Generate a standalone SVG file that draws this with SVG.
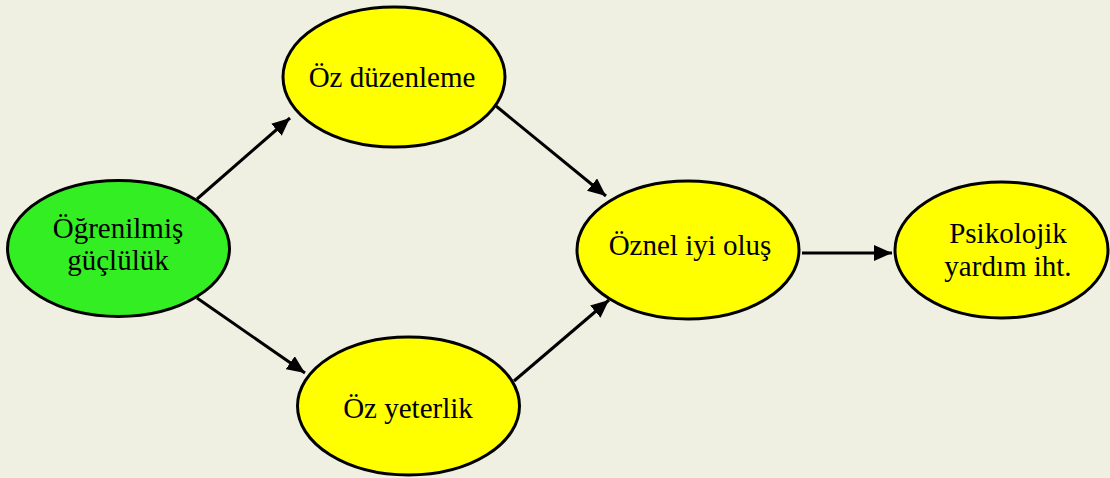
<svg xmlns="http://www.w3.org/2000/svg" width="1110" height="478" viewBox="0 0 1110 478">
  <style>
    .node { stroke: #000; stroke-width: 3; }
    .green { fill: #33ee22; }
    .yellow { fill: #ffff00; }
    .label { font-family: "Liberation Serif", "Times New Roman", serif; font-size: 29px; fill: #000; text-anchor: middle; }
    .edge { stroke: #000; stroke-width: 3; fill: none; marker-end: url(#arrow); }
  </style>
  <defs>
    <marker id="arrow" markerUnits="userSpaceOnUse" markerWidth="18" markerHeight="16" refX="18" refY="8" orient="auto">
      <path d="M0,0 L18,8 L0,16 Z" fill="#000"/>
    </marker>
  </defs>
  <rect width="1110" height="478" fill="#f0f0e2"/>

  <g id="connectors">
    <line class="edge" x1="197" y1="199" x2="290" y2="118"/>
    <line class="edge" x1="197" y1="298" x2="305" y2="373"/>
    <line class="edge" x1="496" y1="106" x2="606" y2="196"/>
    <line class="edge" x1="514" y1="381" x2="609" y2="300"/>
    <line class="edge" x1="802" y1="253" x2="892" y2="253"/>
  </g>

  <g id="ogrenilmis-gucluluk">
    <ellipse class="node green" cx="118.5" cy="248.5" rx="111" ry="68"/>
    <text class="label" x="118" y="238">Öğrenilmiş</text>
    <text class="label" x="118" y="270">güçlülük</text>
  </g>

  <g id="oz-duzenleme">
    <ellipse class="node yellow" cx="394" cy="77" rx="111" ry="70"/>
    <text class="label" x="392" y="87">Öz düzenleme</text>
  </g>

  <g id="oz-yeterlik">
    <ellipse class="node yellow" cx="408.5" cy="406" rx="111" ry="69"/>
    <text class="label" x="408" y="418">Öz yeterlik</text>
  </g>

  <g id="oznel-iyi-olus">
    <ellipse class="node yellow" cx="688" cy="250" rx="111" ry="69"/>
    <text class="label" x="690" y="255">Öznel iyi oluş</text>
  </g>

  <g id="psikolojik-yardim">
    <ellipse class="node yellow" cx="1001.5" cy="250" rx="106.5" ry="68"/>
    <text class="label" x="1008" y="243">Psikolojik</text>
    <text class="label" x="1008" y="276">yardım iht.</text>
  </g>
</svg>
